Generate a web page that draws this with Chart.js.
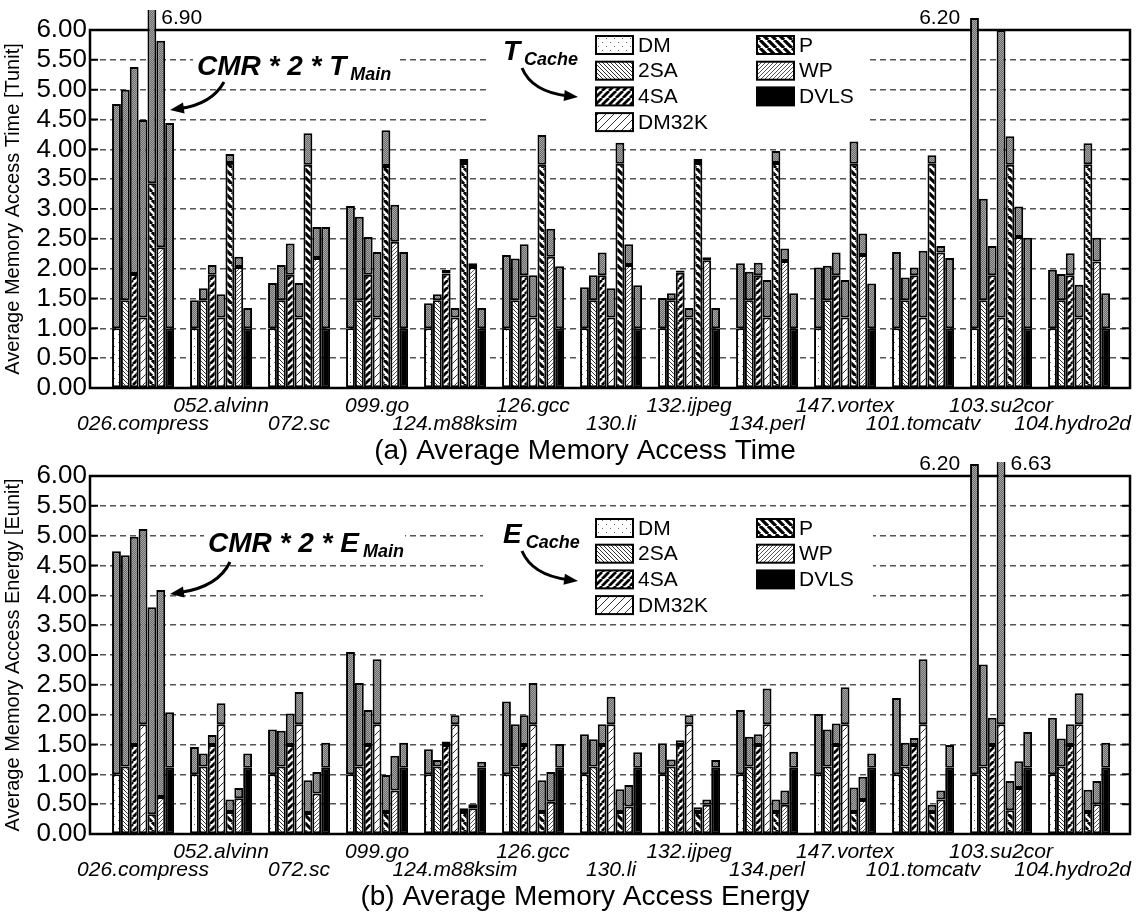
<!DOCTYPE html>
<html>
<head>
<meta charset="utf-8">
<title>Average Memory Access Time / Energy</title>
<script src="https://cdn.jsdelivr.net/npm/chart.js@4.4.1/dist/chart.umd.min.js"></script>
<style>
  html, body { margin: 0; padding: 0; background: #fff; }
  canvas { position: absolute; left: 0; }
  #time { top: 0; }
  #energy { top: 446px; }
</style>
</head>
<body>
<canvas id="time" width="1145" height="476"></canvas>
<canvas id="energy" width="1145" height="476"></canvas>
<script>
var benchmarks = ['026.compress', '052.alvinn', '072.sc', '099.go', '124.m88ksim', '126.gcc', '130.li',
                  '132.ijpeg', '134.perl', '147.vortex', '101.tomcatv', '103.su2cor', '104.hydro2d'];
var seriesNames = ['DM', '2SA', '4SA', 'DM32K', 'P', 'WP', 'DVLS'];
var yTickLabels = ['0.00', '0.50', '1.00', '1.50', '2.00', '2.50', '3.00', '3.50', '4.00', '4.50', '5.00', '5.50', '6.00'];

// (a) average memory access time: whole bar, and the cache part at its foot
var timeDM    = [4.76, 1.47, 1.76, 3.05, 1.42, 2.23, 1.69, 1.51, 2.09, 2.02, 2.28, 6.20, 1.98];
var time2SA   = [5.00, 1.67, 2.06, 2.87, 1.57, 2.17, 1.89, 1.59, 1.95, 2.05, 1.85, 3.17, 1.91];
var time4SA   = [5.38, 2.06, 2.42, 2.53, 1.98, 2.41, 2.27, 1.97, 2.10, 2.27, 2.02, 2.38, 2.26];
var timeDM32K = [4.49, 1.57, 1.76, 2.28, 1.34, 1.89, 1.67, 1.34, 1.81, 1.81, 2.30, 6.00, 1.73];
var timeP     = [6.90, 3.92, 4.27, 4.32, 3.84, 4.24, 4.11, 3.84, 3.97, 4.13, 3.90, 4.22, 4.10];
var timeWP    = [5.82, 2.20, 2.70, 3.07, 2.09, 2.67, 2.41, 2.19, 2.34, 2.59, 2.38, 3.04, 2.52];
var timeDVLS  = [4.44, 1.34, 2.70, 2.28, 1.34, 2.04, 1.72, 1.34, 1.59, 1.75, 2.18, 2.52, 1.59];

var timeDMCache    = [1.00, 1.00, 1.00, 1.00, 1.00, 1.00, 1.00, 1.00, 1.00, 1.00, 1.00, 1.00, 1.00];
var time2SACache   = [1.47, 1.47, 1.47, 1.47, 1.47, 1.47, 1.47, 1.47, 1.47, 1.47, 1.47, 1.47, 1.47];
var time4SACache   = [1.91, 1.90, 1.90, 1.90, 1.92, 1.89, 1.89, 1.93, 1.89, 1.89, 1.89, 1.89, 1.89];
var timeDM32KCache = [1.18, 1.18, 1.18, 1.18, 1.18, 1.18, 1.18, 1.18, 1.18, 1.18, 1.18, 1.18, 1.18];
var timePCache     = [3.43, 3.77, 3.74, 3.72, 3.77, 3.74, 3.76, 3.77, 3.77, 3.76, 3.76, 3.74, 3.75];
var timeWPCache    = [2.36, 2.03, 2.18, 2.45, 2.03, 2.20, 2.06, 2.14, 2.13, 2.23, 2.27, 2.53, 2.12];
var timeDVLSCache  = [1.00, 1.00, 1.00, 1.00, 1.00, 1.00, 1.00, 1.00, 1.00, 1.00, 1.00, 1.00, 1.00];

// (b) average memory access energy
var energyDM    = [4.74, 1.46, 1.75, 3.05, 1.42, 2.22, 1.67, 1.52, 2.08, 2.01, 2.28, 6.20, 1.95];
var energy2SA   = [4.67, 1.35, 1.73, 2.53, 1.24, 1.84, 1.59, 1.25, 1.63, 1.75, 1.53, 2.84, 1.60];
var energy4SA   = [4.98, 1.66, 2.02, 2.08, 1.55, 1.99, 1.84, 1.57, 1.67, 1.85, 1.61, 1.95, 1.84];
var energyDM32K = [5.11, 2.19, 2.38, 2.93, 1.99, 2.53, 2.30, 1.99, 2.44, 2.46, 2.93, 6.63, 2.36];
var energyP     = [3.80, 0.58, 0.90, 0.99, 0.43, 0.90, 0.75, 0.45, 0.58, 0.78, 0.49, 0.89, 0.74];
var energyWP    = [4.09, 0.77, 1.04, 1.31, 0.50, 1.04, 0.82, 0.58, 0.73, 0.96, 0.73, 1.22, 0.89];
var energyDVLS  = [2.04, 1.35, 1.53, 1.53, 1.21, 1.51, 1.37, 1.24, 1.38, 1.35, 1.49, 1.71, 1.53];

var energyDMCache    = [1.00, 1.00, 1.00, 1.00, 1.00, 1.00, 1.00, 1.00, 1.00, 1.00, 1.00, 1.00, 1.00];
var energy2SACache   = [1.13, 1.13, 1.13, 1.13, 1.13, 1.13, 1.13, 1.13, 1.13, 1.13, 1.13, 1.13, 1.13];
var energy4SACache   = [1.49, 1.49, 1.49, 1.49, 1.49, 1.49, 1.49, 1.49, 1.49, 1.49, 1.49, 1.49, 1.49];
var energyDM32KCache = [1.84, 1.84, 1.84, 1.84, 1.84, 1.84, 1.84, 1.84, 1.84, 1.84, 1.84, 1.84, 1.84];
var energyPCache     = [0.33, 0.37, 0.35, 0.37, 0.37, 0.37, 0.37, 0.37, 0.37, 0.37, 0.37, 0.40, 0.37];
var energyWPCache    = [0.62, 0.60, 0.68, 0.73, 0.43, 0.54, 0.46, 0.49, 0.49, 0.57, 0.58, 0.77, 0.50];
var energyDVLSCache  = [1.11, 1.11, 1.11, 1.11, 1.11, 1.11, 1.11, 1.11, 1.11, 1.11, 1.11, 1.11, 1.11];

var FONT = '"Liberation Sans", Arial, Helvetica, sans-serif';
Chart.defaults.font.family = FONT;
Chart.defaults.color = '#000';

// fill patterns
function tile(w, h, paint) {
    var c = document.createElement('canvas');
    c.width = w;
    c.height = h;
    var g = c.getContext('2d');
    g.fillStyle = '#fff';
    g.fillRect(0, 0, w, h);
    paint(g);
    return g.createPattern(c, 'repeat');
}

function hatch(size, dir, color, lw) {
    return tile(size, size, function (g) {
        g.strokeStyle = color;
        g.lineWidth = lw;
        g.beginPath();
        for (var k = -1; k <= 1; k++) {
            var o = k * size;
            if (dir === '/') { g.moveTo(o, size); g.lineTo(o + size, 0); }
            else { g.moveTo(o, 0); g.lineTo(o + size, size); }
        }
        g.stroke();
    });
}

var dmFill = tile(8, 8, function (g) {
    g.fillStyle = '#666';
    g.fillRect(2, 2, 1, 1);
    g.fillRect(6, 6, 1, 1);
});
var mainFill = tile(2, 2, function (g) {
    g.fillStyle = '#6a6a6a';
    g.fillRect(0, 0, 2, 2);
    g.fillStyle = '#a6a6a6';
    g.fillRect(0, 0, 1, 1);
    g.fillRect(1, 1, 1, 1);
});
var cacheFills = [dmFill, hatch(4, '\\', '#333', 1), hatch(7, '/', '#000', 2.8), hatch(8, '/', '#333', 1),
                  hatch(8, '\\', '#000', 3.2), hatch(4, '/', '#555', 1), '#000'];

function arrow(ctx, p0, c, p1) {
    var ang = Math.atan2(p1[1] - c[1], p1[0] - c[0]);
    var head = 15;
    ctx.strokeStyle = '#000';
    ctx.fillStyle = '#000';
    ctx.lineWidth = 3;
    ctx.beginPath();
    ctx.moveTo(p0[0], p0[1]);
    ctx.quadraticCurveTo(c[0], c[1], p1[0] - Math.cos(ang) * 10, p1[1] - Math.sin(ang) * 10);
    ctx.stroke();
    ctx.beginPath();
    ctx.moveTo(p1[0], p1[1]);
    ctx.lineTo(p1[0] - head * Math.cos(ang - 0.38), p1[1] - head * Math.sin(ang - 0.38));
    ctx.lineTo(p1[0] - head * Math.cos(ang + 0.38), p1[1] - head * Math.sin(ang + 0.38));
    ctx.closePath();
    ctx.fill();
}

function note(ctx, x, y, big, small) {
    ctx.textAlign = 'left';
    ctx.textBaseline = 'alphabetic';
    ctx.fillStyle = '#000';
    ctx.font = 'bold italic 28px ' + FONT;
    ctx.fillText(big, x, y);
    var w = ctx.measureText(big).width;
    ctx.font = 'bold italic 18px ' + FONT;
    ctx.fillText(small, x + w + 4, y + 5);
}

function overlay(opt, totals) {
    return {
        id: 'overlay',
        beforeDatasetsDraw: function (chart) {
            var ctx = chart.ctx, a = chart.chartArea, ys = chart.scales.y;
            ctx.save();
            ctx.fillStyle = '#fff';
            opt.blanks.forEach(function (r) { ctx.fillRect(r[0], r[1], r[2] - r[0], r[3] - r[1]); });
            ctx.strokeStyle = '#000';
            ctx.lineWidth = 2;
            ctx.beginPath();
            ys.ticks.forEach(function (t) {
                var py = ys.getPixelForValue(t.value);
                ctx.moveTo(a.left, py); ctx.lineTo(a.left + 8, py);
                ctx.moveTo(a.right - 8, py); ctx.lineTo(a.right, py);
            });
            ctx.stroke();
            ctx.lineWidth = 2.5;
            ctx.strokeRect(a.left, a.top, a.right - a.left, a.bottom - a.top);
            ctx.restore();
        },
        afterDraw: function (chart) {
            var ctx = chart.ctx, a = chart.chartArea, xs = chart.scales.x;
            ctx.save();

            // legend
            ctx.font = '21px ' + FONT;
            ctx.textAlign = 'left';
            ctx.textBaseline = 'middle';
            seriesNames.forEach(function (name, s) {
                var col = s < 4 ? 0 : 1, row = s < 4 ? s : s - 4;
                var x = col ? 757 : 596, y = opt.legendTop + row * 25.7;
                ctx.fillStyle = cacheFills[s];
                ctx.fillRect(x, y, 37, 18);
                ctx.strokeStyle = '#000';
                ctx.lineWidth = 2;
                ctx.strokeRect(x, y, 37, 18);
                ctx.fillStyle = '#000';
                ctx.fillText(name, x + 42, y + 10);
            });

            // annotations
            opt.notes.forEach(function (n) { note(ctx, n[0], n[1], n[2], n[3]); });
            opt.arrows.forEach(function (p) { arrow(ctx, p[0], p[1], p[2]); });

            // values of bars that run past the top
            ctx.font = '21px ' + FONT;
            ctx.textBaseline = 'middle';
            ctx.fillStyle = '#000';
            opt.outliers.forEach(function (o) {
                var el = chart.getDatasetMeta(o[0] * 2 + 1).data[o[1]];
                var txt = totals[o[0]][o[1]].toFixed(2);
                if (o[2] === 'left') {
                    ctx.textAlign = 'right';
                    ctx.fillText(txt, el.x - el.width / 2 - 10, a.top - 12);
                } else {
                    ctx.textAlign = 'left';
                    ctx.fillText(txt, el.x + el.width / 2 + 5, a.top - 12);
                }
            });

            // benchmark names, two staggered rows
            ctx.font = 'italic 21px ' + FONT;
            ctx.textAlign = 'center';
            benchmarks.forEach(function (b, i) {
                var w = ctx.measureText(b).width;
                var x = Math.min(xs.getPixelForValue(i), a.right + 1 - w / 2);
                ctx.fillText(b, x, i % 2 ? a.bottom + 18 : a.bottom + 36);
            });

            // caption
            ctx.font = '28px ' + FONT;
            ctx.fillText(opt.caption, 585, a.bottom + 63);
            ctx.restore();
        }
    };
}

function makeChart(id, totals, caches, opt) {
    var datasets = [];
    seriesNames.forEach(function (name, s) {
        datasets.push({
            label: name,
            stack: name,
            data: caches[s].map(function (v, i) { return {x: i, y: v}; }),
            backgroundColor: cacheFills[s]
        });
        datasets.push({
            label: name + ' main memory',
            stack: name,
            data: totals[s].map(function (v, i) { return {x: i, y: Math.max(0, +(v - caches[s][i]).toFixed(2))}; }),
            backgroundColor: mainFill
        });
    });

    return new Chart(document.getElementById(id), {
        type: 'bar',
        data: {datasets: datasets},
        options: {
            responsive: false,
            animation: false,
            layout: {padding: {left: 0, right: 15, top: 30, bottom: 88}},
            plugins: {legend: {display: false}, tooltip: {enabled: false}},
            datasets: {
                bar: {
                    categoryPercentage: 0.795,
                    barPercentage: 1,
                    borderColor: '#000',
                    borderWidth: 2,
                    borderSkipped: false,
                    clip: {left: false, top: opt.clipTop, right: false, bottom: 0}
                }
            },
            scales: {
                x: {
                    type: 'linear',
                    display: false,
                    offset: false,
                    min: -0.68,
                    max: 12.653,
                    ticks: {stepSize: 1, includeBounds: false}
                },
                y: {
                    stacked: true,
                    min: 0,
                    max: 6,
                    ticks: {
                        stepSize: 0.5,
                        autoSkip: false,
                        padding: 3,
                        color: '#000',
                        font: {size: 26},
                        callback: function (v, i) { return yTickLabels[i]; }
                    },
                    grid: {color: '#555', lineWidth: 1.5, drawTicks: false},
                    border: {display: false, dash: [6, 4]},
                    title: {display: true, text: opt.yTitle, color: '#000', font: {size: 20}, padding: 1},
                    afterFit: function (scale) { scale.width = 90; }
                }
            }
        },
        plugins: [overlay(opt, totals)]
    });
}

makeChart('time',
    [timeDM, time2SA, time4SA, timeDM32K, timeP, timeWP, timeDVLS],
    [timeDMCache, time2SACache, time4SACache, timeDM32KCache, timePCache, timeWPCache, timeDVLSCache],
    {
        yTitle: 'Average Memory Access Time [Tunit]',
        caption: '(a) Average Memory Access Time',
        clipTop: 20,
        legendTop: 36,
        blanks: [[193, 45, 400, 84], [490, 31, 866, 137]],
        notes: [[197, 75, 'CMR * 2 * T', 'Main'], [503, 60, 'T', 'Cache']],
        arrows: [[[224, 82], [212, 104], [170, 110]], [[522, 68], [532, 92], [578, 97]]],
        outliers: [[4, 0, 'right'], [0, 11, 'left']]
    });

makeChart('energy',
    [energyDM, energy2SA, energy4SA, energyDM32K, energyP, energyWP, energyDVLS],
    [energyDMCache, energy2SACache, energy4SACache, energyDM32KCache, energyPCache, energyWPCache, energyDVLSCache],
    {
        yTitle: 'Average Memory Access Energy [Eunit]',
        caption: '(b) Average Memory Access Energy',
        clipTop: 14,
        legendTop: 73,
        blanks: [[204, 78, 405, 116], [483, 66, 873, 172]],
        notes: [[208, 106, 'CMR * 2 * E', 'Main'], [503, 97, 'E', 'Cache']],
        arrows: [[[230, 116], [218, 141], [170, 148]], [[522, 105], [532, 129], [578, 135]]],
        outliers: [[0, 11, 'left'], [3, 11, 'right']]
    });
</script>
</body>
</html>
